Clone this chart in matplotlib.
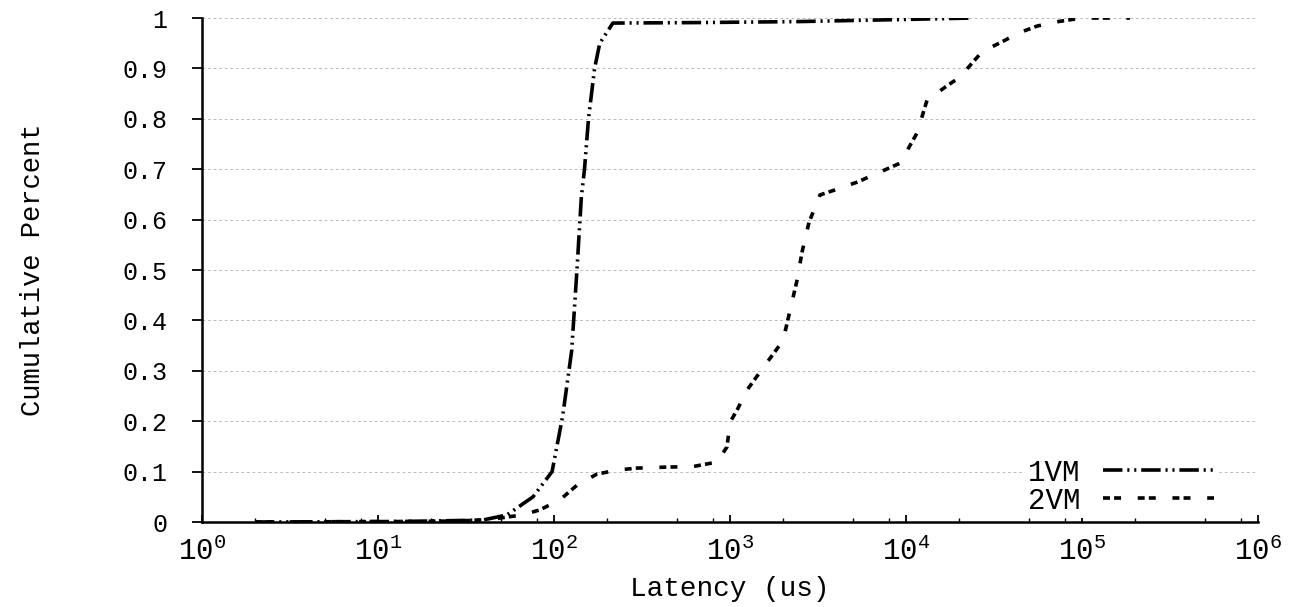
import matplotlib
matplotlib.use('Agg')
import matplotlib.pyplot as plt
from matplotlib.ticker import LogLocator, NullFormatter, FixedLocator, FixedFormatter

plt.rcParams['font.family'] = ['Liberation Mono', 'DejaVu Sans Mono']
plt.rcParams['mathtext.fontset'] = 'custom'
plt.rcParams['mathtext.rm'] = 'Liberation Mono'
plt.rcParams['mathtext.it'] = 'Liberation Mono'
plt.rcParams['lines.scale_dashes'] = False

# latency (us) vs cumulative fraction
vm1_lat = [2, 13, 29, 39.5, 54, 76, 97.5, 112, 126, 135, 143, 149, 157, 170, 182, 216,
           676, 2500, 9300, 24000]
vm1_cdf = [0, 0.001, 0.003, 0.004, 0.014, 0.05, 0.10, 0.21, 0.34, 0.50, 0.645, 0.70, 0.80,
           0.90, 0.95, 0.99, 0.991, 0.993, 0.997, 1.0]

vm2_lat = [2, 13, 29, 43, 66, 83, 108, 135, 175, 228, 296, 438, 616, 844, 961, 1000, 1096,
           1250, 1541, 2000, 2193, 2404, 2567, 2812, 3246, 3950, 5335, 6000, 9250, 11550,
           13160, 17330, 20280, 24040, 27040, 36540, 43300, 55500, 70300, 100000, 187000]
vm2_cdf = [0, 0.001, 0.002, 0.005, 0.014, 0.024, 0.044, 0.073, 0.095, 0.103, 0.107, 0.109,
           0.11, 0.119, 0.149, 0.198, 0.222, 0.262, 0.306, 0.36, 0.42, 0.48, 0.536, 0.595,
           0.649, 0.659, 0.675, 0.683, 0.712, 0.772, 0.837, 0.867, 0.883, 0.913, 0.933,
           0.956, 0.97, 0.984, 0.992, 1.0, 1.0]

ytick_vals = [0, 0.1, 0.2, 0.3, 0.4, 0.5, 0.6, 0.7, 0.8, 0.9, 1]
ytick_labels = ['0', '0.1', '0.2', '0.3', '0.4', '0.5', '0.6', '0.7', '0.8', '0.9', '1']
xtick_vals = [1, 10, 100, 1000, 10000, 100000, 1000000]
xtick_labels = [r'$\mathregular{10^{%d}}$' % i for i in range(7)]

fig = plt.figure(figsize=(12.93, 6.07), dpi=100)
ax = fig.add_axes([0.1562, 0.140, 0.8168, 0.8303])

ax.plot(vm1_lat, vm1_cdf, color='black', lw=2.6, dashes=(14, 3.5, 1.5, 3.5, 1.5, 3.5), label='1VM')
ax.plot(vm2_lat, vm2_cdf, color='black', lw=2.6, dashes=(5, 3, 5, 12), label='2VM')

ax.set_xscale('log')
ax.set_xlim(1, 1e6)
ax.set_ylim(0, 1)

ax.xaxis.set_major_locator(FixedLocator(xtick_vals))
ax.xaxis.set_major_formatter(FixedFormatter(xtick_labels))
ax.xaxis.set_minor_locator(LogLocator(base=10, subs=[2, 5, 8]))
ax.xaxis.set_minor_formatter(NullFormatter())
ax.set_yticks(ytick_vals)
ax.set_yticklabels(ytick_labels)

ax.tick_params(axis='x', which='major', direction='in', length=5, width=1.3, labelsize=21, pad=11)
ax.tick_params(axis='x', which='minor', direction='in', length=3, width=1.0)
ax.tick_params(axis='y', direction='out', length=7, width=1.3, labelsize=18, pad=18)

for s in ['top', 'right']:
    ax.spines[s].set_visible(False)
for s in ['left', 'bottom']:
    ax.spines[s].set_linewidth(1.8)

ax.grid(axis='y', color='#bbbbbb', linestyle=(0, (2, 2)), linewidth=0.7)
ax.set_axisbelow(True)

ax.set_xlabel('Latency (us)', fontsize=20, labelpad=7)
ax.set_ylabel('Cumulative Percent', fontsize=19.5, labelpad=55)

leg = ax.legend(loc='lower right', bbox_to_anchor=(0.975, -0.02), markerfirst=False,
                fontsize=21, handlelength=3.8, frameon=True, framealpha=1,
                edgecolor='none', facecolor='white', borderpad=0.1, labelspacing=0.0,
                handletextpad=0.8)

fig.savefig('out.png', dpi=100)
